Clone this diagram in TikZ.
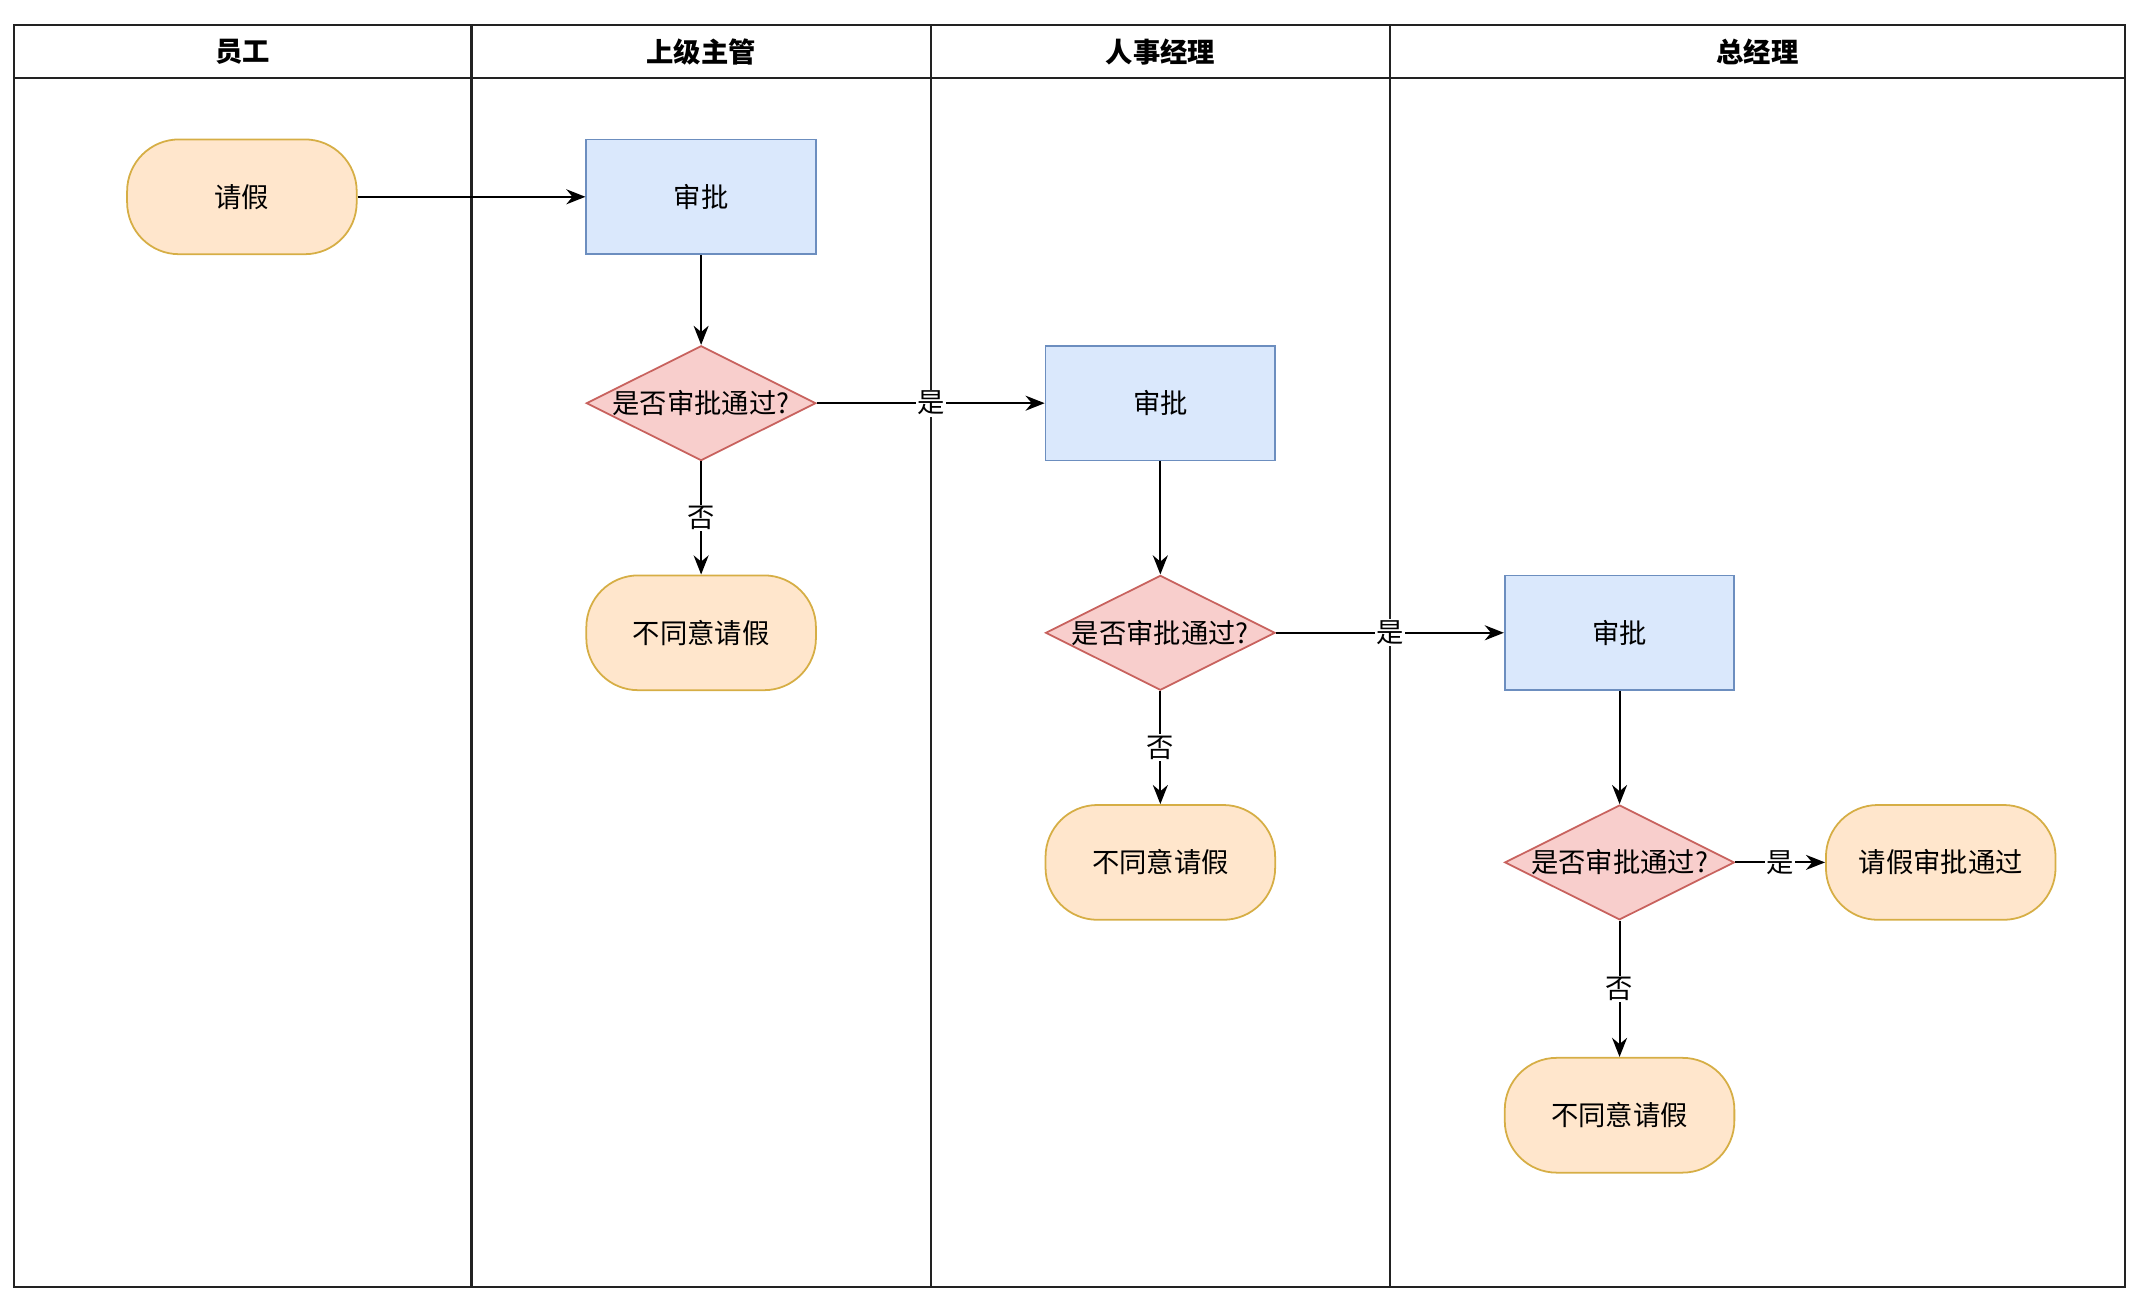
\documentclass[tikz,border=0pt]{standalone}
\usepackage{fontspec}
\setmainfont{Noto Sans CJK SC}
\usetikzlibrary{shapes.geometric,arrows.meta}
\definecolor{ofill}{HTML}{FFE6CC}
\definecolor{odraw}{HTML}{D6AE45}
\definecolor{bfill}{HTML}{DAE8FC}
\definecolor{bdraw}{HTML}{6C8EBF}
\definecolor{rfill}{HTML}{F8CECC}
\definecolor{rdraw}{HTML}{C8625E}
\definecolor{framec}{HTML}{222222}
\tikzset{
  base/.style={minimum width=168pt, minimum height=84pt, inner sep=0pt, line width=1.3pt, font=\fontsize{20pt}{24pt}\selectfont},
  term/.style={base, rectangle, rounded corners=38pt, fill=ofill, draw=odraw},
  proc/.style={base, rectangle, fill=bfill, draw=bdraw},
  dia/.style={base, diamond, aspect=2, fill=rfill, draw=rdraw},
  lanehead/.style={font=\fontsize{20pt}{24pt}\selectfont\bfseries},
  conn/.style={line width=1.4pt, -{Stealth[length=14pt,width=11pt]}},
  elabel/.style={fill=white, inner sep=1pt, font=\fontsize{20pt}{24pt}\selectfont},
  lane/.style={line width=1.5pt, draw=framec}
}
\begin{document}
\begin{tikzpicture}[x=1pt,y=-1pt]
\useasboundingbox (0,0) rectangle (1568,955);
% frame and lanes
\draw[lane] (10,18) rectangle (1555,942);
\draw[lane] (10,57) -- (1555,57);
\draw[lane] (345,18) -- (345,942);
\draw[lane] (681,18) -- (681,942);
\draw[lane] (1017,18) -- (1017,942);
\node[lanehead] (h1) at (177.5,38) {员工};
\node[lanehead] (h2) at (513,38) {上级主管};
\node[lanehead] (h3) at (849,38) {人事经理};
\node[lanehead] (h4) at (1286,38) {总经理};
% nodes
\node[term] (start) at (177,144) {请假};
\node[proc] (p1) at (513,144) {审批};
\node[dia] (d1) at (513,295) {};
\node[font=\fontsize{20pt}{24pt}\selectfont] (t1) at (d1) {是否审批通过?};
\node[term] (n1) at (513,463) {不同意请假};
\node[proc] (p2) at (849,295) {审批};
\node[dia] (d2) at (849,463) {};
\node[font=\fontsize{20pt}{24pt}\selectfont] (t2) at (d2) {是否审批通过?};
\node[term] (n2) at (849,631) {不同意请假};
\node[proc] (p3) at (1185,463) {审批};
\node[dia] (d3) at (1185,631) {};
\node[font=\fontsize{20pt}{24pt}\selectfont] (t3) at (d3) {是否审批通过?};
\node[term] (ok) at (1420,631) {请假审批通过};
\node[term] (n3) at (1185,816) {不同意请假};
% connectors
\draw[conn] (start.east) -- (p1.west);
\draw[conn] (p1.south) -- (d1.north);
\draw[conn] (d1.east) -- node[elabel] {是} (p2.west);
\draw[conn] (d1.south) -- node[elabel] {否} (n1.north);
\draw[conn] (p2.south) -- (d2.north);
\draw[conn] (d2.east) -- node[elabel] {是} (p3.west);
\draw[conn] (d2.south) -- node[elabel] {否} (n2.north);
\draw[conn] (p3.south) -- (d3.north);
\draw[conn] (d3.east) -- node[elabel] {是} (ok.west);
\draw[conn] (d3.south) -- node[elabel] {否} (n3.north);
\end{tikzpicture}
\end{document}
